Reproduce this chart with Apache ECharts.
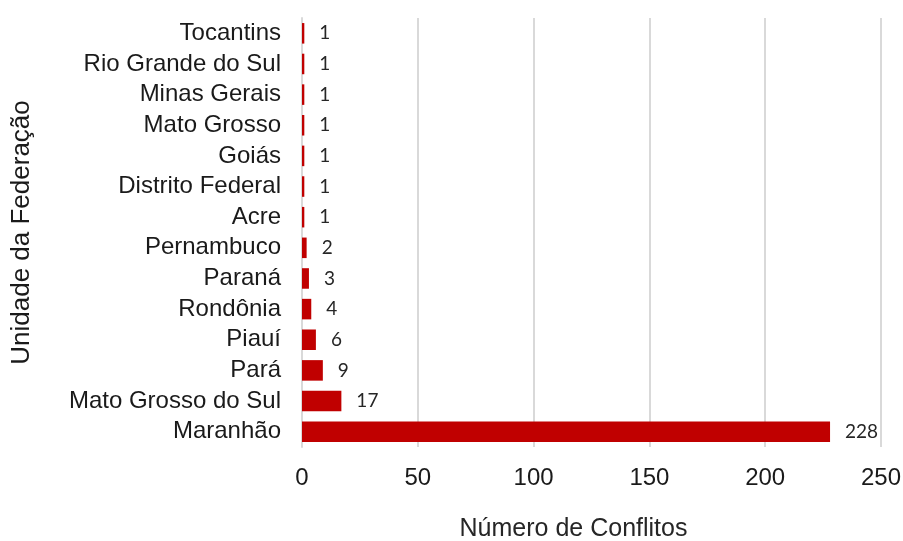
<!DOCTYPE html>
<html><head><meta charset="utf-8">
<script src="https://cdn.jsdelivr.net/npm/echarts@6/dist/echarts.min.js"></script>
<style>html,body{margin:0;padding:0;background:#fff}#c{width:903px;height:541px}</style>
</head><body><div id="c"></div>
<script>
const categories = ["Maranhão","Mato Grosso do Sul","Pará","Piauí","Rondônia","Paraná","Pernambuco","Acre","Distrito Federal","Goiás","Mato Grosso","Minas Gerais","Rio Grande do Sul","Tocantins"];
const values = [228,17,9,6,4,3,2,1,1,1,1,1,1,1];
const xTicks = [0,50,100,150,200,250];

const chart = echarts.init(document.getElementById('c'));
chart.setOption({
  animation:false,
  grid:{left:302,right:22,top:18,bottom:94,containLabel:false,outerBoundsMode:'none'},
  xAxis:{type:'value',min:xTicks[0],max:xTicks[xTicks.length-1],interval:50,
    axisLine:{show:false},axisTick:{show:false},
    splitLine:{show:true,lineStyle:{color:'#d9d9d9',width:2}},
    axisLabel:{color:'#1a1a1a',fontFamily:'Liberation Sans',fontSize:24,margin:19},
    name:'Número de Conflitos',nameLocation:'middle',nameGap:70,
    nameTextStyle:{color:'#262626',fontFamily:'Liberation Sans',fontSize:25,padding:[0,36,0,0]}},
  yAxis:{type:'category',data:categories,
    axisLine:{show:true,lineStyle:{color:'#d9d9d9',width:2}},axisTick:{show:false},
    axisLabel:{interval:0,hideOverlap:false,color:'#1a1a1a',fontFamily:'Liberation Sans',fontSize:24,margin:21},
    name:'Unidade da Federação',nameLocation:'middle',nameGap:267,nameRotate:90,
    nameTextStyle:{color:'#1a1a1a',fontFamily:'Liberation Sans',fontSize:26}},
  series:[{type:'bar',data:values,barWidth:'67%',
    itemStyle:{color:'#C00000'},
    label:{show:true,position:'right',distance:15,color:'#262626',fontFamily:'Lato',fontSize:19}}]
});
</script></body></html>
